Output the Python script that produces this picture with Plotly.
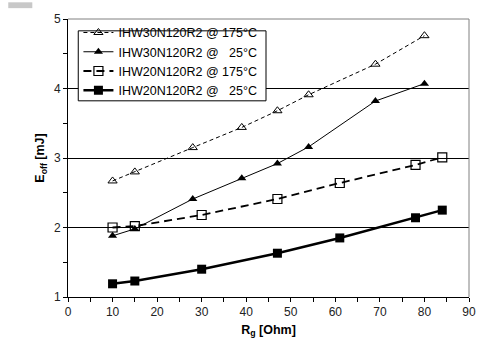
import plotly.graph_objects as go

# Data
rg_30 = [10, 15, 28, 39, 47, 54, 69, 80]
eoff_30_175 = [2.67, 2.80, 3.15, 3.44, 3.68, 3.91, 4.35, 4.76]
eoff_30_25 = [1.88, 1.98, 2.41, 2.71, 2.92, 3.16, 3.82, 4.07]

rg_20 = [10, 15, 30, 47, 61, 78, 84]
eoff_20_175 = [2.00, 2.02, 2.18, 2.41, 2.64, 2.90, 3.01]
eoff_20_25 = [1.19, 1.23, 1.40, 1.63, 1.85, 2.14, 2.25]

names = ["IHW30N120R2 @ 175°C",
         "IHW30N120R2 @\u00a0\u00a0\u00a025°C",
         "IHW20N120R2 @ 175°C",
         "IHW20N120R2 @\u00a0\u00a0\u00a025°C"]

fig = go.Figure()
fig.add_trace(go.Scatter(x=rg_30, y=eoff_30_175, name=names[0], mode="lines+markers",
                         line=dict(color="black", width=1, dash="4px,3px"),
                         marker=dict(symbol="triangle-up-open", size=8, color="black",
                                     line=dict(width=1))))
fig.add_trace(go.Scatter(x=rg_30, y=eoff_30_25, name=names[1], mode="lines+markers",
                         line=dict(color="black", width=1),
                         marker=dict(symbol="triangle-up", size=8, color="black")))
fig.add_trace(go.Scatter(x=rg_20, y=eoff_20_175, name=names[2], mode="lines+markers",
                         line=dict(color="black", width=1.8, dash="8px,5px"),
                         marker=dict(symbol="square-open", size=9, color="black",
                                     line=dict(width=1.2))))
fig.add_trace(go.Scatter(x=rg_20, y=eoff_20_25, name=names[3], mode="lines+markers",
                         line=dict(color="black", width=2.5),
                         marker=dict(symbol="square", size=9, color="black")))

fig.update_layout(
    width=497, height=353,
    margin=dict(l=68, r=28, t=15, b=56),
    paper_bgcolor="white", plot_bgcolor="white",
    font=dict(family="Liberation Sans, Arial, sans-serif", size=12, color="#222"),
    showlegend=True,
    legend=dict(x=0.026, y=1.004, xanchor="left", yanchor="top",
                borderwidth=0, bgcolor="rgba(0,0,0,0)",
                font=dict(size=12.5, color="black"), tracegroupgap=0),
    xaxis=dict(range=[0, 90], dtick=10, tick0=0, showgrid=False, zeroline=False,
               showline=True, linecolor="black", linewidth=1,
               ticks="outside", ticklen=4, tickcolor="black",
               minor=dict(dtick=5, ticks="outside", ticklen=4, tickcolor="black"),
               title=dict(text="<b>R<sub>g</sub> [Ohm]</b>", standoff=6,
                          font=dict(size=12.5, color="black"))),
    yaxis=dict(range=[1, 5], dtick=1, tick0=1, showgrid=True, gridcolor="black",
               gridwidth=1, zeroline=False,
               showline=True, linecolor="black", linewidth=1,
               ticks="outside", ticklen=4, tickcolor="black",
               minor=dict(dtick=0.5, ticks="outside", ticklen=4, tickcolor="black",
                          showgrid=False),
               title=dict(text="<b>E<sub>off</sub> [mJ]</b>", standoff=6,
                          font=dict(size=12.5, color="black"))),
    shapes=[
        dict(type="line", xref="paper", yref="paper", x0=0, x1=1, y0=1, y1=1,
             line=dict(color="#808080", width=1)),
        dict(type="line", xref="paper", yref="paper", x0=1, x1=1, y0=0, y1=1,
             line=dict(color="#808080", width=1)),
        dict(type="rect", xref="paper", yref="paper", x0=0.0256, x1=0.4938,
             y0=0.7057, y1=0.9574, fillcolor="white",
             line=dict(color="black", width=1)),
        dict(type="rect", xref="paper", yref="paper", x0=-0.149, x1=-0.089,
             y0=1.039, y1=1.06, fillcolor="#c8c8c8", line=dict(width=0)),
    ],
)

fig.write_html("out.html")
